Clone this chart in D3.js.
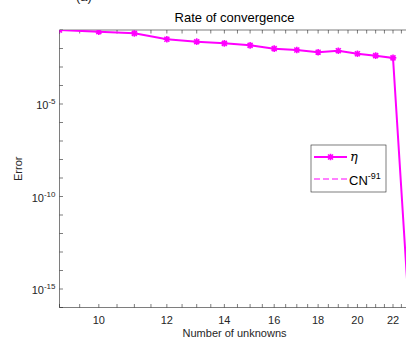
<!DOCTYPE html>
<html>
<head>
<meta charset="utf-8">
<script src="https://d3js.org/d3.v7.min.js"></script>
<style>
  body { margin: 0; background: #fff; }
  svg { display: block; font-family: Arial, "Liberation Sans", sans-serif; }
</style>
</head>
<body>
<div id="chart"></div>
<script>
// data
var nUnknowns = [9, 10, 11, 12, 13, 14, 15, 16, 17, 18, 19, 20, 21, 22, 23];
var errEta = [0.1, 0.081, 0.066, 0.0316, 0.0234, 0.019, 0.0148, 0.0098, 0.0083,
              0.0063, 0.0076, 0.0052, 0.0041, 0.0031, 2e-17];
var xTickLabels = [10, 12, 14, 16, 18, 20, 22];
var yTickExps = [-5, -10, -15];
var legendNames = ["\u03B7", "CN"];

var width = 406, height = 342;
var margin = {top: 30, left: 59.5, right: -3.6, bottom: 34.5};
var ink = "#262626", magenta = "#ff00ff";

var svg = d3.select("#chart").append("svg")
  .attr("width", width)
  .attr("height", height);

var xScale = d3.scaleLog()
  .domain([9, 23])
  .range([margin.left, width - margin.right]);

var yScale = d3.scaleLog()
  .domain([1e-16, 1e-1])
  .range([height - margin.bottom, margin.top]);

var x0 = xScale.range()[0], x1 = xScale.range()[1];
var y0 = yScale.range()[0], y1 = yScale.range()[1];

svg.append("defs").append("clipPath").attr("id", "plotclip")
  .append("rect")
  .attr("x", x0).attr("y", y1)
  .attr("width", x1 - x0).attr("height", y0 - y1);

// x ticks every 0.5, labels only on even numbers
var xTickVals = d3.range(9, 23.01, 0.5);
var yTickVals = d3.range(-16, -0.99, 1).map(function(e) { return Math.pow(10, e); });

var tickLen = 3.5;
var axes = svg.append("g").attr("stroke", ink).attr("stroke-width", 0.6);

// box
axes.append("line").attr("x1", x0).attr("x2", x1).attr("y1", y0).attr("y2", y0);
axes.append("line").attr("x1", x0).attr("x2", x1).attr("y1", y1).attr("y2", y1);
axes.append("line").attr("x1", x0).attr("x2", x0).attr("y1", y0).attr("y2", y1);
axes.append("line").attr("x1", x1).attr("x2", x1).attr("y1", y0).attr("y2", y1);

axes.selectAll(".xtb").data(xTickVals).enter().append("line")
  .attr("x1", function(d) { return xScale(d); })
  .attr("x2", function(d) { return xScale(d); })
  .attr("y1", y0).attr("y2", y0 - tickLen);
axes.selectAll(".xtt").data(xTickVals).enter().append("line")
  .attr("x1", function(d) { return xScale(d); })
  .attr("x2", function(d) { return xScale(d); })
  .attr("y1", y1).attr("y2", y1 + tickLen);
axes.selectAll(".ytl").data(yTickVals).enter().append("line")
  .attr("x1", x0).attr("x2", x0 + tickLen)
  .attr("y1", function(d) { return yScale(d); })
  .attr("y2", function(d) { return yScale(d); });

// tick labels
svg.selectAll(".xlab").data(xTickLabels).enter().append("text")
  .attr("x", function(d) { return xScale(d); })
  .attr("y", y0 + 16)
  .attr("text-anchor", "middle")
  .attr("font-size", 11)
  .attr("fill", ink)
  .text(function(d) { return d; });

var ylab = svg.selectAll(".ylab").data(yTickExps).enter().append("text")
  .attr("x", x0 - 4)
  .attr("y", function(d) { return yScale(Math.pow(10, d)) + 5; })
  .attr("text-anchor", "end")
  .attr("font-size", 11)
  .attr("fill", ink);
ylab.append("tspan").text("10");
ylab.append("tspan").attr("dy", -5).attr("font-size", 8)
  .text(function(d) { return "-" + Math.abs(d); });

// titles (the figure caption above is cropped in the source)
svg.append("text")
  .attr("x", 76).attr("y", 1)
  .attr("font-size", 13).attr("fill", ink)
  .text("(a)");

svg.append("text")
  .attr("x", (x0 + x1) / 2).attr("y", 22)
  .attr("text-anchor", "middle")
  .attr("font-size", 13).attr("fill", "#000")
  .text("Rate of convergence");

svg.append("text")
  .attr("x", (x0 + x1) / 2).attr("y", 337)
  .attr("text-anchor", "middle")
  .attr("font-size", 11).attr("fill", ink)
  .text("Number of unknowns");

svg.append("text")
  .attr("transform", "translate(22," + ((y0 + y1) / 2) + ") rotate(-90)")
  .attr("text-anchor", "middle")
  .attr("font-size", 11).attr("fill", ink)
  .text("Error");

// series
var pts = nUnknowns.map(function(n, i) { return [n, errEta[i]]; });
var line = d3.line()
  .x(function(d) { return xScale(d[0]); })
  .y(function(d) { return yScale(d[1]); });

var plot = svg.append("g").attr("clip-path", "url(#plotclip)");
plot.append("path")
  .datum(pts)
  .attr("d", line)
  .attr("fill", "none")
  .attr("stroke", magenta)
  .attr("stroke-width", 2);

function star(g, cx, cy, s) {
  var p = "M" + (cx - s) + "," + cy + "H" + (cx + s) +
          "M" + cx + "," + (cy - s) + "V" + (cy + s) +
          "M" + (cx - s * 0.75) + "," + (cy - s * 0.75) + "L" + (cx + s * 0.75) + "," + (cy + s * 0.75) +
          "M" + (cx - s * 0.75) + "," + (cy + s * 0.75) + "L" + (cx + s * 0.75) + "," + (cy - s * 0.75);
  g.append("path").attr("d", p)
    .attr("stroke", magenta).attr("stroke-width", 1.6).attr("fill", "none");
}

var markers = svg.append("g").attr("clip-path", "url(#plotclip)");
pts.forEach(function(d) {
  var cy = yScale(d[1]);
  if (cy <= y0) star(markers, xScale(d[0]), cy, 3.3);
});

// legend
var lg = svg.append("g");
lg.append("rect")
  .attr("x", 311).attr("y", 145)
  .attr("width", 75).attr("height", 47)
  .attr("fill", "#fff")
  .attr("stroke", ink).attr("stroke-width", 0.6);

lg.append("line")
  .attr("x1", 314).attr("x2", 347).attr("y1", 157).attr("y2", 157)
  .attr("stroke", magenta).attr("stroke-width", 2);
star(lg, 330.5, 157, 3.3);
lg.append("text")
  .attr("x", 350).attr("y", 161)
  .attr("font-family", "'DejaVu Serif', 'Liberation Serif', serif")
  .attr("font-style", "italic")
  .attr("font-size", 13).attr("fill", "#000")
  .text(legendNames[0]);

lg.append("path")
  .attr("d", "M314,179H347")
  .style("stroke", "#ff55ff")
  .style("stroke-width", "1.6px")
  .style("stroke-dasharray", "6,3")
  .style("fill", "none");
var cn = lg.append("text")
  .attr("x", 349).attr("y", 185)
  .attr("font-size", 13).attr("fill", "#000");
cn.append("tspan").text(legendNames[1]);
cn.append("tspan").attr("dy", -6).attr("font-size", 9).text("-91");
</script>
</body>
</html>
